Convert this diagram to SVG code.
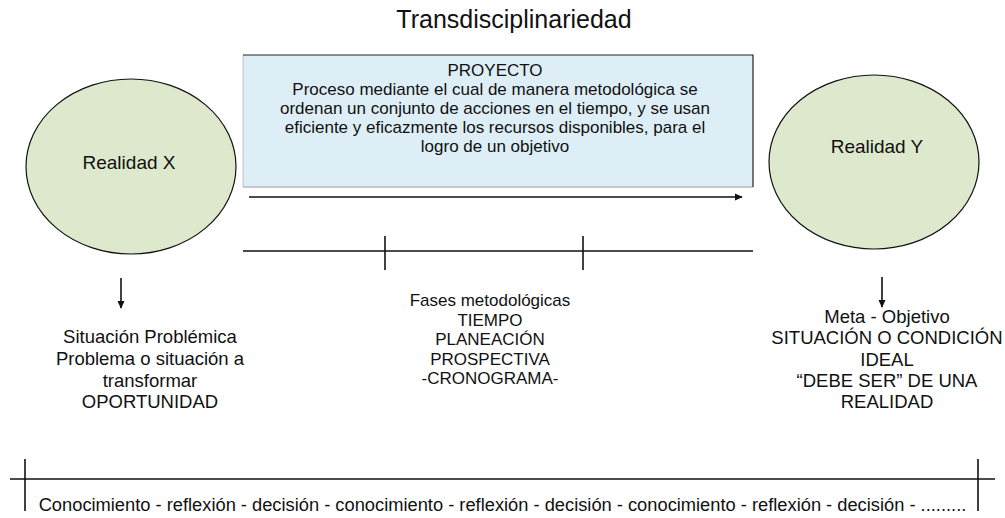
<svg xmlns="http://www.w3.org/2000/svg" width="1005" height="518" viewBox="0 0 1005 518">
<style>
text{font-family:"Liberation Sans",Arial,Helvetica,sans-serif;fill:#111;text-anchor:middle}
.ell{fill:#dde8cc;stroke:#111;stroke-width:1.2}
.ln{stroke:#111;stroke-width:1.6;fill:none}
.t17{font-size:17px}
.t18{font-size:18.5px}
</style>
<defs>
<marker id="ah" viewBox="0 0 10 10" refX="9" refY="5" markerWidth="5" markerHeight="5" orient="auto" markerUnits="strokeWidth">
<path d="M0,0.5 L10,5 L0,9.5 z" fill="#111"/>
</marker>
</defs>
<rect width="1005" height="518" fill="#fff"/>
<g id="title"><text x="514" y="28" style="font-size:25px">Transdisciplinariedad</text></g>
<g id="proyecto">
<rect x="243" y="55" width="510" height="132" fill="#ddeef6"/>
<path d="M243,187 L243,55" stroke="#c4ccd0" stroke-width="1.2" fill="none"/>
<path d="M243,187 L753,187" stroke="#b8b8b8" stroke-width="1.4" fill="none"/>
<path d="M243,55 L753,55 L753,187" stroke="#222" stroke-width="1.2" fill="none"/>
<text class="t17" x="495" y="76">PROYECTO</text>
<text class="t17" x="495" y="94.5">Proceso mediante el cual de manera metodológica se</text>
<text class="t17" x="495" y="113.5">ordenan un conjunto de acciones en el tiempo, y se usan</text>
<text class="t17" x="495" y="132.5">eficiente y eficazmente los recursos disponibles, para el</text>
<text class="t17" x="495" y="151.5">logro de un objetivo</text>
</g>
<g id="realidadX">
<ellipse class="ell" cx="131" cy="166.5" rx="105" ry="87.5"/>
<text x="129" y="169" style="font-size:19px">Realidad X</text>
</g>
<g id="realidadY">
<ellipse class="ell" cx="874" cy="162" rx="105" ry="87"/>
<text x="877" y="153" style="font-size:19px">Realidad Y</text>
</g>
<g id="connectors">
<line class="ln" x1="249" y1="197" x2="742" y2="197" marker-end="url(#ah)"/>
<line class="ln" x1="243" y1="251" x2="753" y2="251"/>
<line class="ln" x1="385" y1="236" x2="385" y2="270"/>
<line class="ln" x1="583" y1="236" x2="583" y2="270"/>
<line class="ln" x1="121" y1="278" x2="121" y2="308" marker-end="url(#ah)"/>
<line class="ln" x1="882" y1="277" x2="882" y2="307" marker-end="url(#ah)"/>
<line class="ln" x1="10" y1="479" x2="995" y2="479"/>
<line class="ln" x1="25" y1="459" x2="25" y2="511"/>
<line class="ln" x1="978" y1="459" x2="978" y2="511"/>
</g>
<g id="situacion">
<text class="t18" x="150" y="343">Situación Problémica</text>
<text class="t18" x="150" y="365">Problema o situación a</text>
<text class="t18" x="150" y="386.5">transformar</text>
<text class="t18" x="150" y="408">OPORTUNIDAD</text>
</g>
<g id="fases">
<text class="t17" x="490" y="306">Fases metodológicas</text>
<text class="t17" x="490" y="325.5">TIEMPO</text>
<text class="t17" x="490" y="345">PLANEACIÓN</text>
<text class="t17" x="490" y="364.5">PROSPECTIVA</text>
<text class="t17" x="490" y="384">-CRONOGRAMA-</text>
</g>
<g id="meta">
<text class="t18" x="887" y="323">Meta - Objetivo</text>
<text class="t18" x="887" y="344">SITUACIÓN O CONDICIÓN</text>
<text class="t18" x="887" y="365.5">IDEAL</text>
<text class="t18" x="887" y="387">“DEBE SER” DE UNA</text>
<text class="t18" x="887" y="408">REALIDAD</text>
</g>
<g id="ciclo">
<text x="502.5" y="511" style="font-size:18.3px">Conocimiento - reflexión - decisión - conocimiento - reflexión - decisión - conocimiento - reflexión - decisión - .........</text>
</g>
</svg>
